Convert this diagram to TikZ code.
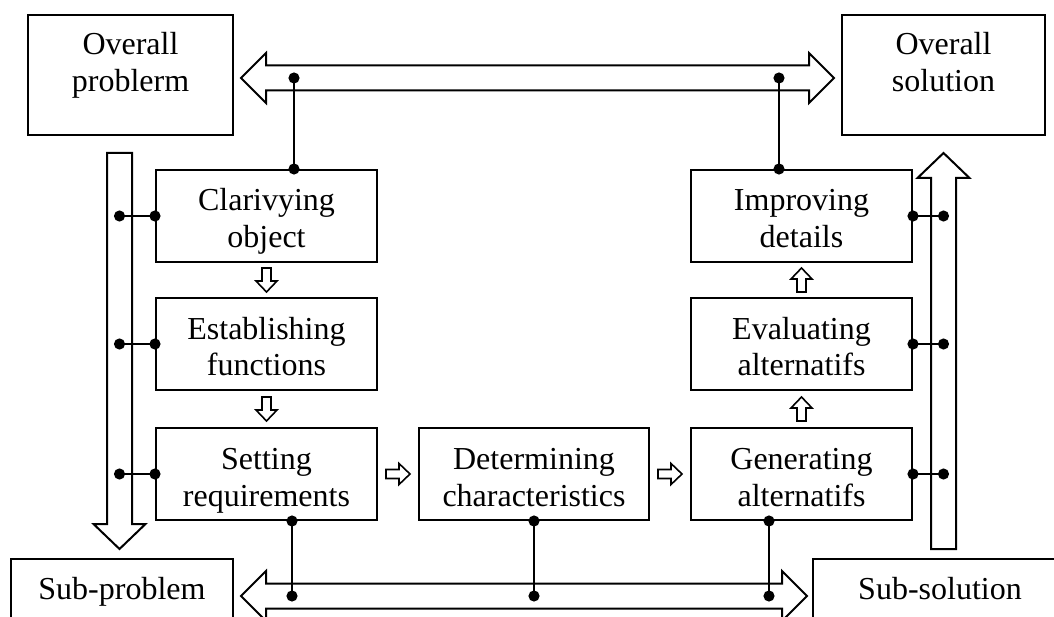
\documentclass[tikz,border=0pt]{standalone}
\usepackage{fontspec}
\setmainfont{Liberation Serif}
\usetikzlibrary{positioning, calc, arrows.meta}

% box text with its first baseline #1 above the node centre
\newcommand{\boxtext}[2][5pt]{\raisebox{#1}[0pt][0pt]{\begin{tabular}[t]{@{}c@{}}#2\end{tabular}}}

\begin{document}
\begin{tikzpicture}[
        x=1pt, y=-1pt,
        node distance=35pt,
        stage/.style={
            rectangle, draw=black, line width=2pt,
            minimum width=221pt, minimum height=92pt,
            inner sep=0pt
        },
        endbox/.style={
            rectangle, draw=black, line width=2pt,
            minimum height=120pt, inner sep=0pt
        },
        bigarrow/.style={draw=black, fill=white, line width=2pt, line join=miter},
        link/.style={draw, line width=2pt, {Circle[length=11pt]}-{Circle[length=11pt]},
            shorten <=-5.5pt, shorten >=-5.5pt},
        flowarr/.pic={
            \draw[line width=1.6pt, fill=white] (-12,-4.5) -- (1,-4.5) -- (1,-10.5) -- (12,0)
                -- (1,10.5) -- (1,4.5) -- (-12,4.5) -- cycle;
        },
        font=\fontsize{32}{37}\selectfont
    ]

    \useasboundingbox (0,0) rectangle (1054,617);
    \clip (0,0) rectangle (1054,617);
    \fill[white] (0,0) rectangle (1054,617);

    % design stages
    \node [stage] (clar) at (266.5,216) {\boxtext{Clarivying\\object}};
    \node [stage, below=34pt of clar] (estab) {\boxtext{Establishing\\functions}};
    \node [stage, below=36pt of estab] (setreq) {\boxtext{Setting\\requirements}};
    \node [stage, minimum width=230pt, right=40pt of setreq] (determ) {\boxtext{Determining\\characteristics}};
    \node [stage, right=40pt of determ] (genalt) {\boxtext{Generating\\alternatifs}};
    \node [stage, above=36pt of genalt] (evalalt) {\boxtext{Evaluating\\alternatifs}};
    \node [stage, above=34pt of evalalt] (improve) {\boxtext{Improving\\details}};

    % problem / solution boxes
    \node [endbox, minimum width=205pt] (ovprob) at (130.5,75) {\boxtext[20pt]{Overall\\problerm}};
    \node [endbox, minimum width=203pt] (ovsol) at (943.5,75) {\boxtext[20pt]{Overall\\solution}};
    \node [endbox, minimum width=222pt] (subprob) at (122,619) {\boxtext[20pt]{Sub-problem}};
    \node [endbox, minimum width=254pt] (subsol) at (940,619) {\boxtext[20pt]{Sub-solution}};

    % wide hollow arrows
    \draw [bigarrow] (241,78) -- (266,53) -- (266,65.5) -- (809,65.5) -- (809,53) -- (834,78)
        -- (809,103) -- (809,90.5) -- (266,90.5) -- (266,103) -- cycle;
    \draw [bigarrow] (241,596) -- (266,571) -- (266,583.5) -- (782,583.5) -- (782,571) -- (807,596)
        -- (782,621) -- (782,608.5) -- (266,608.5) -- (266,621) -- cycle;
    \draw [bigarrow] (107,153) -- (132,153) -- (132,524) -- (145.5,524) -- (119.5,549)
        -- (93.5,524) -- (107,524) -- cycle;
    \draw [bigarrow] (931,549) -- (956,549) -- (956,178) -- (969.5,178) -- (943.5,153)
        -- (917.5,178) -- (931,178) -- cycle;

    \coordinate (lane-l) at (119.5,0);
    \coordinate (lane-r) at (943.5,0);
    \coordinate (lane-t) at (0,78);
    \coordinate (lane-b) at (0,596);

    % small arrows between stages
    \pic [rotate=-90] at ($(clar.south)!.5!(estab.north)$) {flowarr};
    \pic [rotate=-90] at ($(estab.south)!.5!(setreq.north)$) {flowarr};
    \pic at ($(setreq.east)!.5!(determ.west)$) {flowarr};
    \pic at ($(determ.east)!.5!(genalt.west)$) {flowarr};
    \pic [rotate=90] at ($(genalt.north)!.5!(evalalt.south)$) {flowarr};
    \pic [rotate=90] at ($(evalalt.north)!.5!(improve.south)$) {flowarr};

    % links to the arrows
    \foreach \n in {clar, estab, setreq}
        \draw [link] (\n.west) -- (\n.west -| lane-l);
    \foreach \n in {improve, evalalt, genalt}
        \draw [link] (\n.east) -- (\n.east -| lane-r);

    \draw [link] ([xshift=27.5pt]clar.north) -- ([xshift=27.5pt]clar.north |- lane-t);
    \draw [link] ([xshift=-22.5pt]improve.north) -- ([xshift=-22.5pt]improve.north |- lane-t);
    \draw [link] ([xshift=25.5pt]setreq.south) -- ([xshift=25.5pt]setreq.south |- lane-b);
    \draw [link] (determ.south) -- (determ.south |- lane-b);
    \draw [link] ([xshift=-32.5pt]genalt.south) -- ([xshift=-32.5pt]genalt.south |- lane-b);

\end{tikzpicture}
\end{document}
